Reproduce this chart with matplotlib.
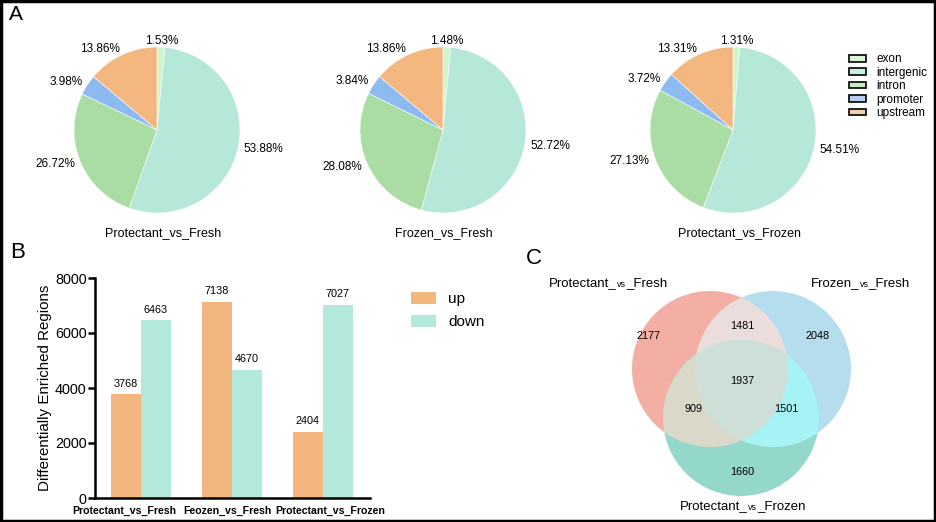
import numpy as np
import matplotlib.pyplot as plt
from matplotlib.patches import Circle, Polygon, Patch, Rectangle

plt.rcParams['font.family'] = ['Liberation Sans', 'DejaVu Sans']

# ---- data ----
regions = ["exon", "intergenic", "intron", "promoter", "upstream"]
pie_titles = ["Protectant_vs_Fresh", "Frozen_vs_Fresh", "Protectant_vs_Frozen"]
pie1 = [1.53, 53.88, 26.72, 3.98, 13.86]
pie2 = [1.48, 52.72, 28.08, 3.84, 13.86]
pie3 = [1.31, 54.51, 27.13, 3.72, 13.31]

bar_groups = ["Protectant_vs_Fresh", "Feozen_vs_Fresh", "Protectant_vs_Frozen"]
up = [3768, 7138, 2404]
down = [6463, 4670, 7027]

venn_only_pf = 2177
venn_only_ff = 2048
venn_only_pz = 1660
venn_pf_ff = 1481
venn_pf_pz = 909
venn_ff_pz = 1501
venn_all = 1937

pie_colors = ["#CFF5CF", "#B5E8D8", "#A9DDA4", "#8DBAF0", "#F3B77F"]
legend_colors = ["#D8F5D8", "#C9EEE3", "#C8E8C4", "#B8CEF0", "#F5D0AF"]

W, H = 937, 522
fig = plt.figure(figsize=(W / 100, H / 100), dpi=100)


def rect(x, y, w, h):
    return [x / W, 1 - (y + h) / H, w / W, h / H]


# ---- A: pies ----
for cx, vals, title in zip([157, 443, 733], [pie1, pie2, pie3], pie_titles):
    ax = fig.add_axes(rect(cx - 120, 10, 240, 240))
    labels = ["%.2f%%" % v for v in vals]
    wedges, texts = ax.pie(vals, labels=labels, colors=pie_colors, startangle=90,
                           counterclock=False, labeldistance=1.07,
                           wedgeprops=dict(edgecolor="white", linewidth=0.4),
                           textprops=dict(fontsize=8.5))
    texts[0].set_ha("center")
    ax.set_xlim(-1.446, 1.446)
    ax.set_ylim(-1.446, 1.446)
    ax.axis("off")

for x, title in zip([163, 444, 740], pie_titles):
    fig.text(x / W, 1 - 233 / H, title, ha="center", va="center", fontsize=9)

handles = [Patch(facecolor=c, edgecolor="black", linewidth=1.2) for c in legend_colors]
fig.legend(handles, regions, loc="upper left", bbox_to_anchor=(840 / W, 1 - 44 / H),
           frameon=False, fontsize=8.5, handlelength=1.4, handleheight=0.5,
           labelspacing=0.12, handletextpad=0.9, borderpad=0.3)

# ---- B: bars ----
axb = fig.add_axes(rect(95, 278, 275, 220))
x = np.arange(len(bar_groups))
bw = 0.33
b1 = axb.bar(x - bw / 2, up, bw, color="#F4B67F", label="up")
b2 = axb.bar(x + bw / 2, down, bw, color="#B3E9DA", label="down")
for bars in (b1, b2):
    for r in bars:
        axb.annotate(str(int(r.get_height())), (r.get_x() + r.get_width() / 2, r.get_height()),
                     xytext=(0, 4), textcoords="offset points", ha="center", va="bottom",
                     fontsize=7.8)
axb.set_xlim(-0.505, 2.52)
axb.set_ylim(0, 8000)
axb.set_yticks([0, 2000, 4000, 6000, 8000])
axb.set_xticks([])
# group labels sit slightly off-centre in the original so they don't collide
for xi, lab in zip([-0.18, 0.95, 2.08], bar_groups):
    axb.text(xi, -0.035, lab, transform=axb.get_xaxis_transform(), ha="center", va="top",
             fontsize=7.6, fontweight="bold")
axb.tick_params(axis="y", labelsize=10.4, width=1.8, length=5, pad=1)
for s in ["top", "right"]:
    axb.spines[s].set_visible(False)
for s in ["left", "bottom"]:
    axb.spines[s].set_linewidth(1.8)
axb.set_ylabel("Differentially Enriched Regions", fontsize=10.9, labelpad=2)
axb.legend(loc="upper left", bbox_to_anchor=(1.1, 1.0), frameon=False, fontsize=11,
           handlelength=1.6, handleheight=0.9, labelspacing=0.55, handletextpad=0.8)

# ---- C: venn ----
axv = fig.add_axes(rect(520, 240, 417, 282))
axv.set_xlim(520, 937)
axv.set_ylim(522, 240)
axv.axis("off")

r = 78
c_pf, c_ff, c_pz = (710, 369), (773, 369), (741, 418)
col_pf, col_ff, col_pz = "#F4AFA5", "#B4DEEE", "#94D8CB"

for c, col in [(c_pf, col_pf), (c_ff, col_ff), (c_pz, col_pz)]:
    axv.add_patch(Circle(c, r, facecolor=col, edgecolor="none"))


def overlap(ca, cb, col):
    clip = Circle(cb, r, transform=axv.transData)
    p = Circle(ca, r, facecolor=col, edgecolor="none")
    axv.add_patch(p)
    p.set_clip_path(clip)


overlap(c_pf, c_ff, "#EBDDDC")
overlap(c_pf, c_pz, "#D9D8C9")
overlap(c_ff, c_pz, "#A6F3F5")

# triple intersection polygon
t = np.linspace(0, 2 * np.pi, 720)
pts = []
cs = [c_pf, c_ff, c_pz]
for i, c in enumerate(cs):
    p = np.column_stack([c[0] + r * np.cos(t), c[1] + r * np.sin(t)])
    inside = np.ones(len(p), bool)
    for j, o in enumerate(cs):
        if j != i:
            inside &= np.hypot(p[:, 0] - o[0], p[:, 1] - o[1]) <= r
    pts.append(p[inside])
pts = np.vstack(pts)
ctr = pts.mean(axis=0)
pts = pts[np.argsort(np.arctan2(pts[:, 1] - ctr[1], pts[:, 0] - ctr[0]))]
axv.add_patch(Polygon(pts, closed=True, facecolor="#CEDFD8", edgecolor="none"))

for (px, py), v in [((649, 336), venn_only_pf), ((818, 336), venn_only_ff),
                    ((742, 472), venn_only_pz), ((742, 326), venn_pf_ff),
                    ((694, 409), venn_pf_pz), ((786, 409), venn_ff_pz),
                    ((742, 381), venn_all)]:
    axv.text(px, py, str(v), ha="center", va="center", fontsize=7.8)


def vs_label(x, y, a, b, ha="left"):
    t1 = axv.text(x, y, a + "_", fontsize=9.5, va="baseline", ha="left")
    t2 = axv.annotate("vs", xy=(1, 0), xycoords=t1, fontsize=6.5, va="bottom", ha="left")
    axv.annotate("_" + b, xy=(1, 0), xycoords=t2, fontsize=9.5, va="bottom", ha="left")


vs_label(549, 286, "Protectant", "Fresh")
vs_label(811, 286, "Frozen", "Fresh")
vs_label(680, 509, "Protectant", "Frozen")

# ---- panel letters and border ----
fig.text(9 / W, 1 - 15 / H, "A", fontsize=15, ha="left", va="center")
fig.text(10 / W, 1 - 253 / H, "B", fontsize=16, ha="left", va="center")
fig.text(526 / W, 1 - 258 / H, "C", fontsize=16, ha="left", va="center")
fig.patches.append(Rectangle((0.001, 0.002), 0.997, 0.996, transform=fig.transFigure,
                             fill=False, edgecolor="black", linewidth=2.5))

fig.savefig("out.png", dpi=100)
